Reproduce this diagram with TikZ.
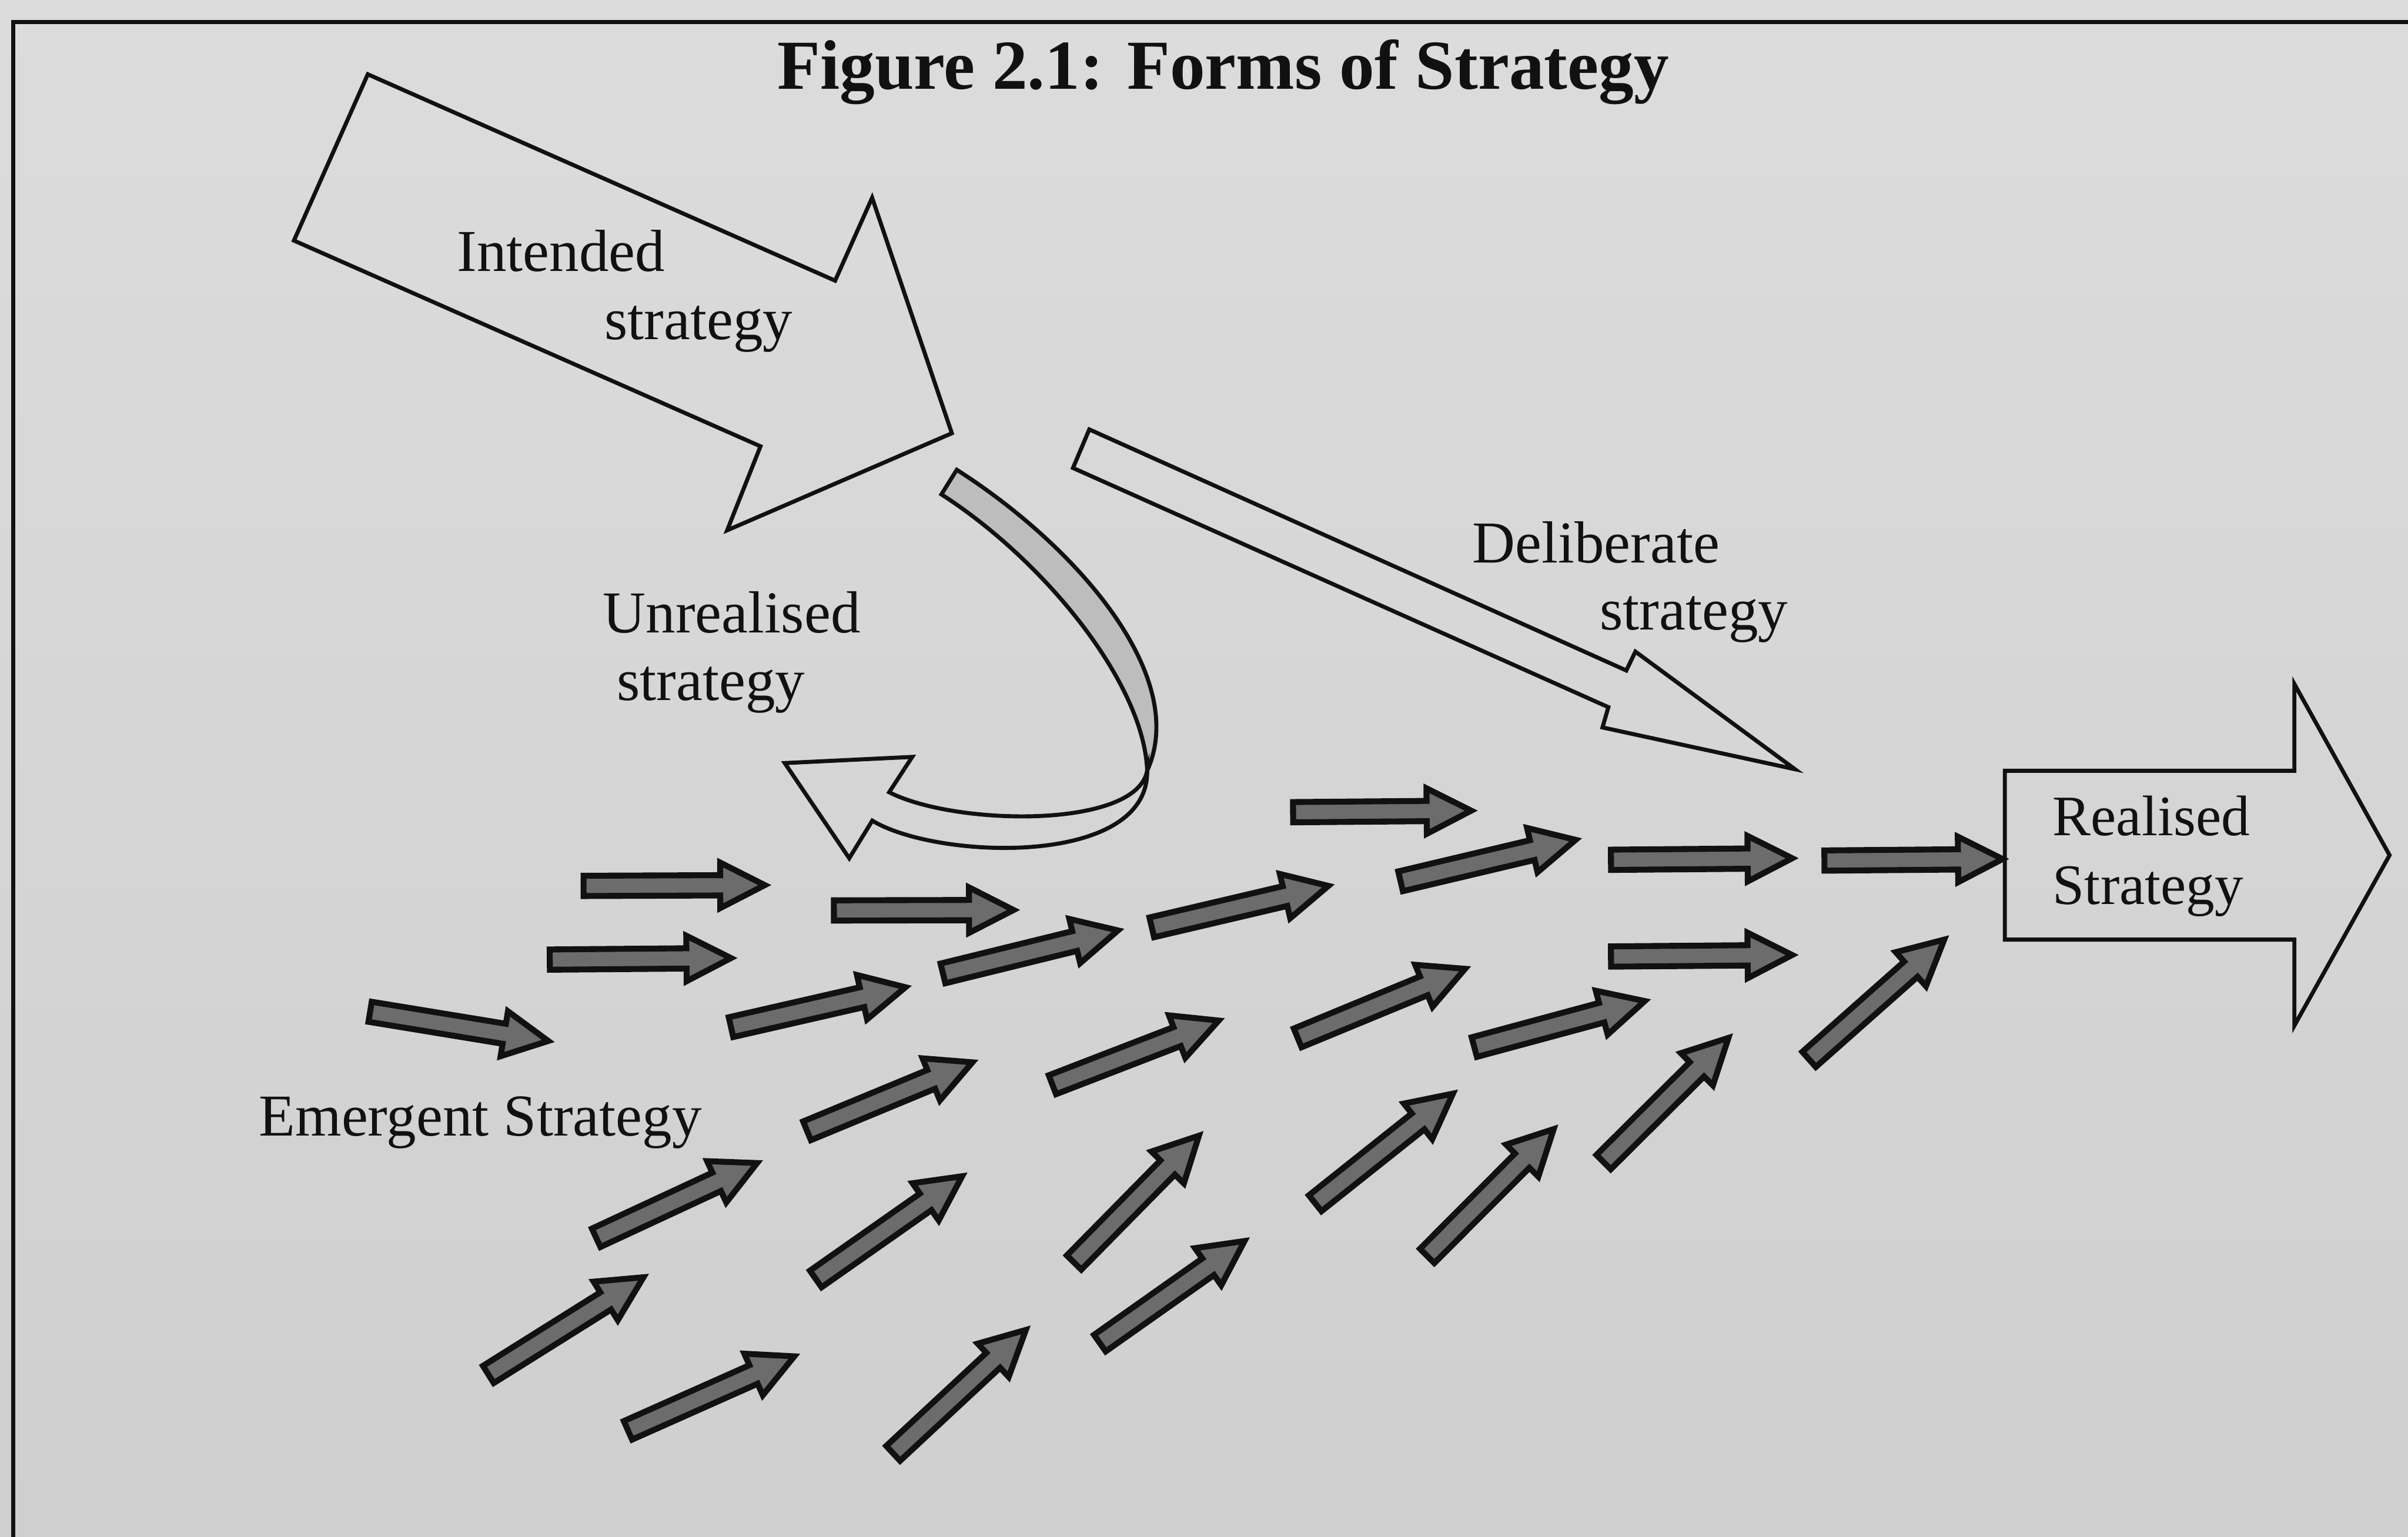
\documentclass[tikz,border=0pt]{standalone}
\usepackage{fontspec}
\setmainfont{Liberation Serif}
\usetikzlibrary{calc}

\definecolor{papertop}{HTML}{DCDCDC}
\definecolor{paperbot}{HTML}{CFCFCF}
\definecolor{emfill}{HTML}{6C6C6C}
\definecolor{foldfill}{HTML}{BDBDBD}
\definecolor{ink}{HTML}{111111}

\tikzset{
  outline/.style={draw=ink, line width=0.75pt, line join=miter},
  emergent/.style={draw=ink, fill=emfill, line width=1.1pt, line join=miter},
  label/.style={font=\fontsize{11}{13}\selectfont, inner sep=0pt, text=ink},
}

% small block arrow from tail centre #2 to tip #3
\newcommand\emarrow[3]{%
  \coordinate (#1t) at (#2);
  \coordinate (#1h) at (#3);
  \coordinate (#1b) at ($(#1h)!0.29cm!(#1t)$);
  \path[emergent] ($(#1t)!0.066cm!90:(#1h)$) -- ($(#1b)!0.066cm!90:(#1h)$)
    -- ($(#1b)!0.148cm!90:(#1h)$) -- (#1h) -- ($(#1b)!0.148cm!-90:(#1h)$)
    -- ($(#1b)!0.066cm!-90:(#1h)$) -- ($(#1t)!0.066cm!-90:(#1h)$) -- cycle;
}

\begin{document}
\begin{tikzpicture}[x=0.01cm, y=-0.01cm]
\useasboundingbox (0,0) rectangle (1568,1001);
\shade[top color=papertop, bottom color=paperbot] (0,0) rectangle (1568,1001);

% frame
\draw[ink, line width=0.75pt] (1570,14.5) -- (8.5,14.5) -- (8.5,1003);

% title
\node[font=\bfseries\fontsize{13}{15}\selectfont, anchor=base, inner sep=0pt, text=ink]
  (title) at (796.5,58) {Figure 2.1: Forms of Strategy};

% intended strategy
\draw[outline] (239.5,48.4) -- (543.8,182.8) -- (567.9,128.8) -- (619.8,282.2)
  -- (473.5,345.4) -- (495.2,290.7) -- (191.4,156.7) -- cycle;
\node[label, anchor=base west] (intended1) at (297,176.5) {Intended};
\node[label, anchor=base west] (intended2) at (393,221) {strategy};

% deliberate strategy
\draw[outline] (709.3,279.7) -- (1059,436.7) -- (1064.9,424.4) -- (1168.8,501)
  -- (1043.5,473.8) -- (1047.3,460.6) -- (698.7,304.8) -- cycle;
\node[label, anchor=base west] (deliberate1) at (958,366.6) {Deliberate};
\node[label, anchor=base west] (deliberate2) at (1041,410.3) {strategy};

% unrealised strategy: twisted ribbon turning back
\draw[outline, fill=foldfill] (623,306) .. controls (700,355) and (775,440) .. (747,502)
  .. controls (745,445) and (680,365) .. (613,322) -- cycle;
\draw[outline] (747,502) .. controls (740,540) and (622,538) .. (579,516)
  -- (594,493) -- (511,497) -- (553,559) -- (568,534.5)
  .. controls (610,560) and (748,565) .. (747,502) -- cycle;
\node[label, anchor=base west] (unrealised1) at (392,412) {Unrealised};
\node[label, anchor=base west] (unrealised2) at (401,456) {strategy};

% realised strategy
\draw[outline] (1305.5,502) -- (1494,502) -- (1494,445.5) -- (1556,557)
  -- (1494,668) -- (1494,612) -- (1305.5,612) -- cycle;
\node[label, font=\fontsize{10.6}{13}\selectfont, anchor=base west] (realised1) at (1336,544) {Realised};
\node[label, font=\fontsize{10.6}{13}\selectfont, anchor=base west] (realised2) at (1336,589) {Strategy};

% emergent strategy
\node[label, anchor=base west] (emergent) at (168,739.7) {Emergent Strategy};
\emarrow{e1}{380,577}{498,576.5}
\emarrow{e2}{358,625}{476,624}
\emarrow{e3}{241,659}{357,678}
\emarrow{e4}{543,593}{660,592.7}
\emarrow{e5}{476,669}{589.6,643}
\emarrow{e6}{614,634}{728,606}
\emarrow{e7}{750,604}{865,577}
\emarrow{e8}{842,529}{958,528}
\emarrow{e9}{912,574}{1026,547}
\emarrow{e10}{1049,560}{1167,559}
\emarrow{e11}{1188,560.5}{1304,559.5}
\emarrow{e12}{1049,623}{1167,622}
\emarrow{e13}{525.5,736.5}{633.2,691.9}
\emarrow{e14}{685.3,706.5}{793.6,664.7}
\emarrow{e15}{845,676}{954,631}
\emarrow{e16}{960,682}{1071,652}
\emarrow{e17}{388.2,806.2}{493,757.5}
\emarrow{e18}{531.2,833}{626.5,766.1}
\emarrow{e19}{699.4,822.3}{780.7,739.7}
\emarrow{e20}{856.4,783.7}{946.1,712.3}
\emarrow{e21}{1044.2,756.9}{1125.5,676}
\emarrow{e22}{1178,690}{1266,612}
\emarrow{e23}{318,895.2}{419,831.9}
\emarrow{e24}{408.9,931.6}{517.2,883.4}
\emarrow{e25}{581.6,946.6}{668,866.2}
\emarrow{e26}{716.2,874.8}{810.4,808.3}
\emarrow{e27}{929.3,818}{1011.7,735.4}
\end{tikzpicture}
\end{document}
